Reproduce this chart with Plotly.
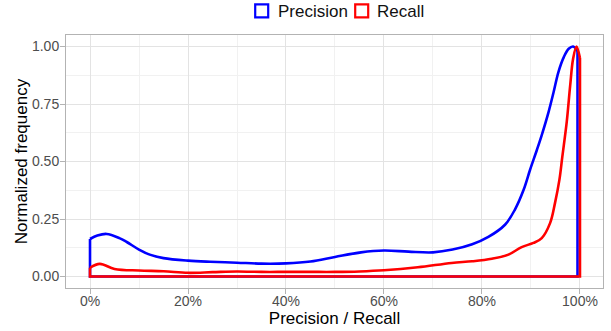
import plotly.graph_objects as go

# Precision density (scaled to max 1)
prec_x = [0, 0.015, 0.034, 0.06, 0.075, 0.10, 0.122, 0.15, 0.20, 0.245, 0.30, 0.35, 0.40,
          0.45, 0.50, 0.553, 0.60, 0.65, 0.70, 0.74, 0.78, 0.813, 0.847, 0.867, 0.885, 0.898,
          0.912, 0.922, 0.936, 0.946, 0.956, 0.967, 0.977, 0.986, 0.995]
prec_y = [0.163, 0.178, 0.185, 0.167, 0.15, 0.117, 0.095, 0.08, 0.069, 0.064, 0.06, 0.056,
          0.057, 0.065, 0.085, 0.105, 0.113, 0.108, 0.105, 0.117, 0.14, 0.172, 0.225, 0.29,
          0.377, 0.463, 0.55, 0.615, 0.716, 0.80, 0.889, 0.954, 0.99, 1.0, 0.98]

# Recall density (scaled to max 1)
rec_x = [0, 0.02, 0.05, 0.10, 0.15, 0.20, 0.25, 0.30, 0.35, 0.40, 0.45, 0.50, 0.55, 0.60,
         0.669, 0.738, 0.78, 0.82, 0.854, 0.881, 0.905, 0.922, 0.939, 0.949, 0.958, 0.964,
         0.973, 0.980, 0.986, 0.993, 1.0]
rec_y = [0.038, 0.055, 0.033, 0.026, 0.023, 0.016, 0.019, 0.022, 0.02, 0.02, 0.02, 0.02,
         0.022, 0.027, 0.04, 0.059, 0.066, 0.077, 0.095, 0.128, 0.146, 0.167, 0.232, 0.319,
         0.42, 0.521, 0.672, 0.83, 0.947, 1.0, 0.95]

series_names = ["Precision", "Recall"]
series_colors = ["#0000ff", "#ff0000"]
series = [(series_names[0], prec_x, prec_y, series_colors[0]),
          (series_names[1], rec_x, rec_y, series_colors[1])]

x_ticks = [0, 0.2, 0.4, 0.6, 0.8, 1.0]
y_ticks = [0, 0.25, 0.5, 0.75, 1.0]

FONT = "Liberation Sans, Arial, sans-serif"
LW = 2.6
W, H = 611, 331
ML, MR, MT, MB = 66, 8, 35, 43
PW, PH = W - ML - MR, H - MT - MB


def px_x(p):  # pixel -> paper x
    return (p - ML) / PW


def px_y(p):  # pixel -> paper y
    return (H - MB - p) / PH


fig = go.Figure()
for name, xs, ys, col in series:
    fig.add_trace(go.Scatter(x=xs, y=ys, mode="lines", name=name,
                             line=dict(color=col, width=LW, shape="spline", smoothing=1.0),
                             showlegend=False, hoverinfo="skip"))
    # polygon closure: right edge, baseline, left edge
    fig.add_trace(go.Scatter(x=[xs[-1], xs[-1], xs[0], xs[0]], y=[ys[-1], 0, 0, ys[0]], mode="lines",
                             line=dict(color=col, width=LW), showlegend=False, hoverinfo="skip"))

# manual legend (ggplot-style square keys)
legend_box_left = [255.2, 355.2]
legend_text_left = [275.5, 375.0]
for i, (name, col) in enumerate(zip(series_names, series_colors)):
    fig.add_shape(type="rect", xref="paper", yref="paper",
                  x0=px_x(legend_box_left[i]), x1=px_x(legend_box_left[i] + 13),
                  y0=px_y(4.3), y1=px_y(17.3), line=dict(color=col, width=2.2),
                  fillcolor="rgba(0,0,0,0)")
    fig.add_annotation(xref="paper", yref="paper", x=px_x(legend_text_left[i]), y=px_y(11.2),
                       xanchor="left", yanchor="middle", text=name, showarrow=False,
                       font=dict(size=17, color="#111111", family=FONT))

grid_major = "#e3e3e3"
grid_minor = "#f1f1f1"
fig.update_layout(
    width=W, height=H,
    margin=dict(l=ML, r=MR, t=MT, b=MB, autoexpand=False),
    paper_bgcolor="white", plot_bgcolor="white",
    font=dict(family=FONT, size=14, color="#4d4d4d"),
    showlegend=False,
    xaxis=dict(range=[-0.049, 1.047], tickvals=x_ticks, tickformat=".0%", automargin=True,
               showgrid=True, gridcolor=grid_major, gridwidth=1,
               minor=dict(dtick=0.1, tick0=0, showgrid=True, gridcolor=grid_minor, gridwidth=0.7, ticks=""),
               zeroline=False, showline=True, mirror=True, linecolor="#b3b3b3", linewidth=1,
               ticks="outside", ticklen=5, tickcolor="#b3b3b3", ticklabelstandoff=-5,
               tickfont=dict(size=14, color="#4d4d4d"),
               title=dict(text="Precision / Recall", font=dict(size=17, color="black"), standoff=0)),
    yaxis=dict(range=[-0.05, 1.05], tickvals=y_ticks, tickformat=".2f", automargin=True,
               showgrid=True, gridcolor=grid_major, gridwidth=1,
               minor=dict(dtick=0.125, tick0=0, showgrid=True, gridcolor=grid_minor, gridwidth=0.7, ticks=""),
               zeroline=False, showline=True, mirror=True, linecolor="#b3b3b3", linewidth=1,
               ticks="outside", ticklen=5, tickcolor="#b3b3b3", ticklabelstandoff=-2,
               tickfont=dict(size=14, color="#4d4d4d"),
               title=dict(text="Normalized frequency", font=dict(size=17, color="black"), standoff=0)),
)

fig.write_html("out.html", config={"displayModeBar": False},
               post_script="document.body.style.margin='0';")
